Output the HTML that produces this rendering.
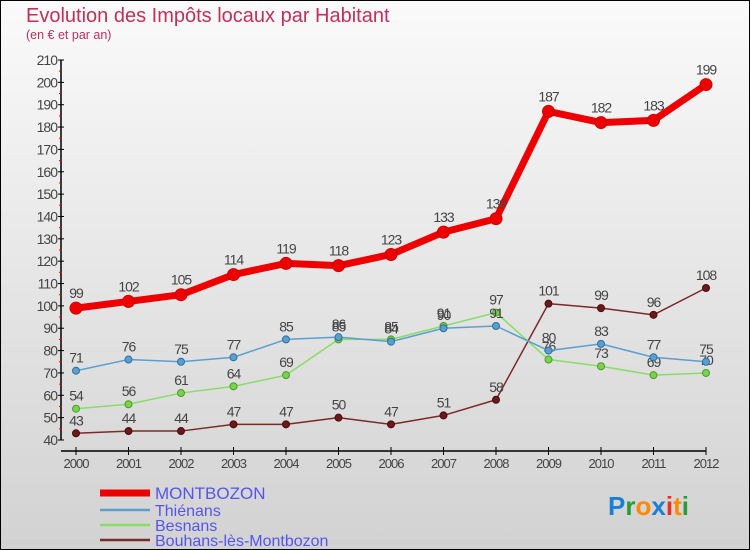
<!DOCTYPE html>
<html><head><meta charset="utf-8"><style>
body{margin:0}
#c{width:750px;height:550px;position:relative;box-sizing:border-box;border:1px solid #000;background:linear-gradient(#fafafa,#d2d2d2);font-family:"Liberation Sans",sans-serif;overflow:hidden}
</style></head><body>
<div id="c">
<svg id="s" width="750" height="550" style="position:absolute;left:-1px;top:-1px">
<text x="26" y="22" font-size="20" fill="#c0305a">Evolution des Impôts locaux par Habitant</text>
<text x="26" y="39" font-size="12.5" fill="#c0305a">(en € et par an)</text>
<text x="608" y="515" font-size="26" font-weight="bold"><tspan fill="#1a7fd6">P</tspan><tspan fill="#2a9a3a">r</tspan><tspan fill="#ff8a00">o</tspan><tspan fill="#1a7fd6">x</tspan><tspan fill="#e83020">i</tspan><tspan fill="#ff8a00">t</tspan><tspan fill="#2a9a3a">i</tspan></text>
</svg>
</div>
<script>
const years=["2000","2001","2002","2003","2004","2005","2006","2007","2008","2009","2010","2011","2012"];
const montbozon=[99,102,105,114,119,118,123,133,139,187,182,183,199];
const thienans=[71,76,75,77,85,86,84,90,91,80,83,77,75];
const besnans=[54,56,61,64,69,85,85,91,97,76,73,69,70];
const bouhans=[43,44,44,47,47,50,47,51,58,101,99,96,108];
const yTicks=[40,50,60,70,80,90,100,110,120,130,140,150,160,170,180,190,200,210];
const series=[
 {name:"MONTBOZON",vals:montbozon,color:"#ee0000",w:7,r:6,dot:"#ee0000",stroke:"#cc0000"},
 {name:"Thiénans",vals:thienans,color:"#5a9fd0",w:1.5,r:3.5,dot:"#5a9fd0",stroke:"#2f6f9f"},
 {name:"Besnans",vals:besnans,color:"#88dd66",w:1.5,r:3.5,dot:"#7ad24f",stroke:"#4a9a2a"},
 {name:"Bouhans-lès-Montbozon",vals:bouhans,color:"#7a2a2a",w:1.5,r:3.5,dot:"#6a1a1a",stroke:"#4a0a0a"}];
const s=document.getElementById('s');const NS="http://www.w3.org/2000/svg";
const X=i=>76+i*52.5, Y=v=>440-(v-40)*(380/170);
function mk(t,a,p){const e=document.createElementNS(NS,t);for(const k in a)e.setAttribute(k,a[k]);(p||s).appendChild(e);return e;}
let e;
e=mk('line',{x1:61,y1:60,x2:61,y2:440,stroke:"#000","stroke-width":1.5});


e=mk('line',{x1:61,y1:451,x2:706,y2:451,stroke:"#000","stroke-width":1.5});


yTicks.forEach(v=>{mk('line',{x1:58,y1:Y(v),x2:64,y2:Y(v),stroke:"#000"});
 if(v<210)mk('line',{x1:59,y1:Y(v+5),x2:62,y2:Y(v+5),stroke:"#e00"});
 e=mk('text',{x:57,y:Y(v)+5,"text-anchor":"end","font-size":14,fill:"#444","letter-spacing":"-1"});e.textContent=v;
 
 });
years.forEach((y,i)=>{mk('line',{x1:X(i),y1:447,x2:X(i),y2:455,stroke:"#000"});
 e=mk('text',{x:X(i),y:468,"text-anchor":"middle","font-size":13,fill:"#444","letter-spacing":"-1"});e.textContent=y;
 
 });
[...series].reverse().forEach(se=>{
 e=mk('polyline',{points:se.vals.map((v,i)=>X(i)+","+Y(v)).join(" "),fill:"none",stroke:se.color,"stroke-width":se.w,"stroke-linejoin":"round"});
 
 
 se.vals.forEach((v,i)=>{e=mk('circle',{cx:X(i),cy:Y(v),r:se.r,fill:se.dot,stroke:se.stroke,"stroke-width":1});
  
  
  e=mk('text',{x:X(i),y:Y(v)-(se.w>3?10:8),"text-anchor":"middle","font-size":14,fill:"#444","letter-spacing":"-1"});e.textContent=v;
  
  });
});
series.forEach((se,k)=>{const ly=[494,511,526,541][k];
 mk('line',{x1:100,y1:ly-1,x2:150,y2:ly-1,stroke:se.color,"stroke-width":se.w>3?7:2.5});
 e=mk('text',{x:155,y:ly+5,"font-size":k==0?17:16,fill:"#5555ee"});e.textContent=se.name;
 
 });
</script>
</body></html>
